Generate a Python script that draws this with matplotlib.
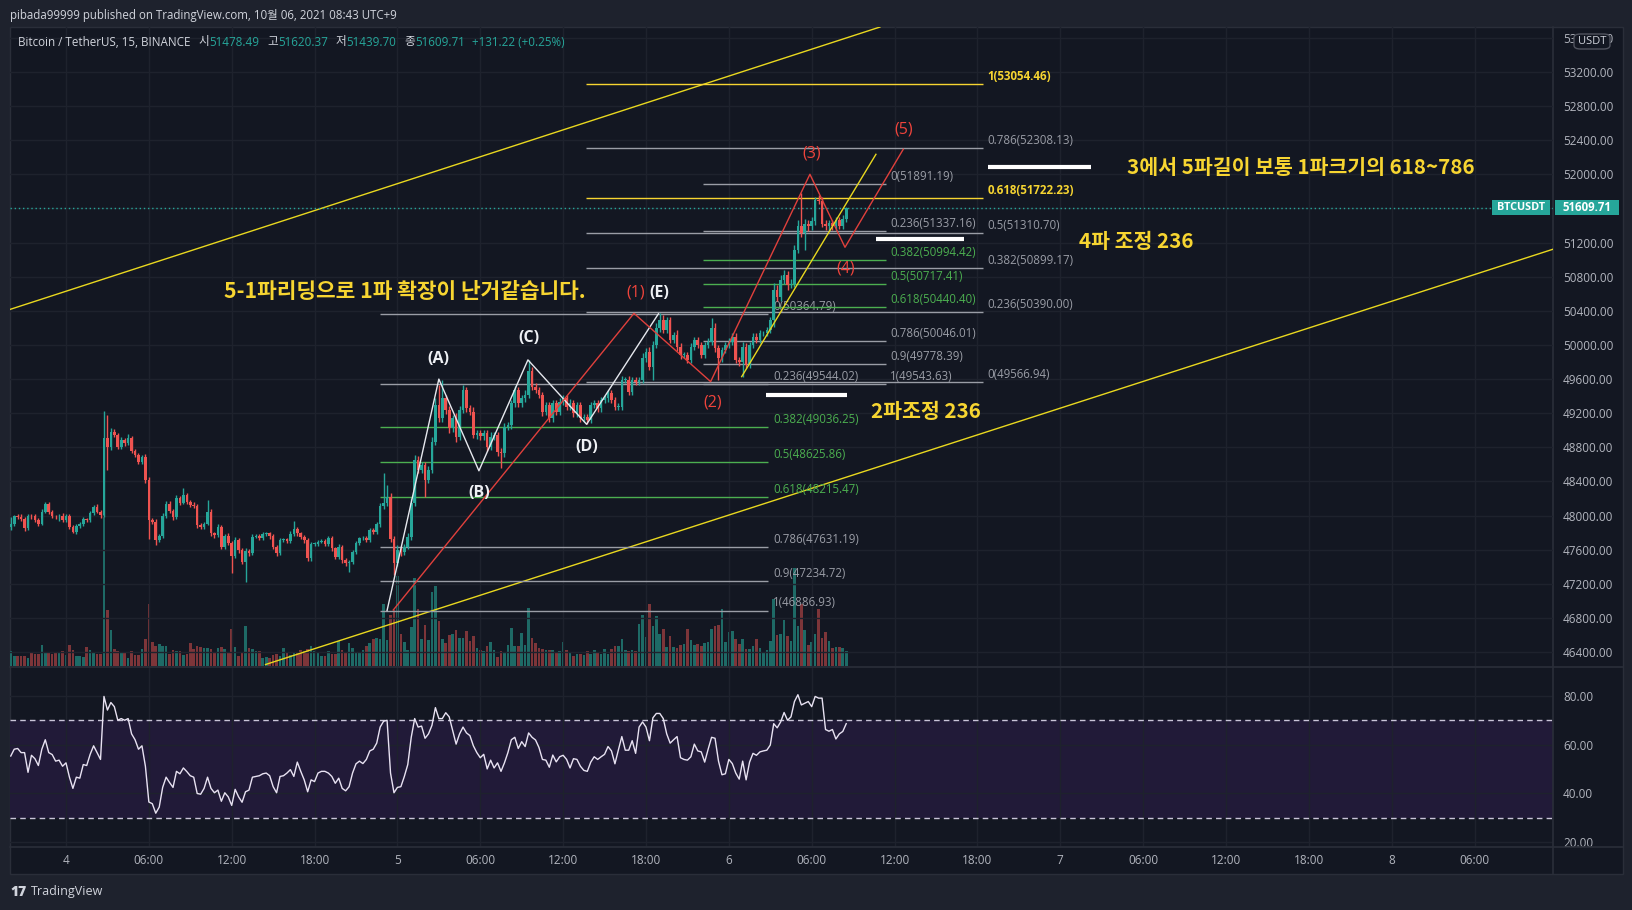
import matplotlib
matplotlib.use('Agg')
import matplotlib.pyplot as plt
import numpy as np
from matplotlib.patches import Rectangle, FancyBboxPatch

# ---------------- data (x in hours since 2021-10-04 00:00, UTC+9) ----------------
bar_start_hour = -4.0
bar_step_hour = 0.25
first_open = 47870

close = [
    47900, 47990, 47985, 47960, 47850, 47995, 47990, 47950,
    47905, 48045, 48135, 48045, 47995, 47990, 48000, 47950,
    47995, 47870, 47810, 47877, 47900, 47960, 47948, 48026,
    48100, 48046, 48007, 48905, 48800, 48983, 48945, 48808,
    48886, 48847, 48913, 48760, 48710, 48632, 48690, 48417,
    47948, 47930, 47713, 47760, 47995, 48135, 48057, 47979,
    48202, 48151, 48241, 48160, 48124, 48112, 47889, 47862,
    47905, 48046, 47792, 47772, 47870, 47635, 47764, 47682,
    47526, 47713, 47596, 47459, 47584, 47557, 47752, 47760,
    47733, 47784, 47791, 47760, 47635, 47557, 47713, 47721,
    47700, 47784, 47838, 47790, 47752, 47713, 47498, 47666,
    47670, 47694, 47700, 47666, 47733, 47616, 47518, 47635,
    47479, 47440, 47459, 47577, 47674, 47733, 47740, 47717,
    47830, 47810, 47901, 48112, 48143, 48221, 47725, 47448,
    47596, 47570, 47635, 47752, 48151, 48651, 48534, 48593,
    48417, 48534, 48866, 49296, 49140, 49374, 49237, 49022,
    49140, 48925, 49237, 49472, 49257, 49218, 48945, 48964,
    48930, 48964, 48808, 48925, 48940, 48750, 48730, 49042,
    49060, 49316, 49472, 49316, 49374, 49413, 49700, 49511,
    49472, 49413, 49218, 49296, 49140, 49316, 49218, 49335,
    49374, 49277, 49316, 49198, 49296, 49140, 49160, 49120,
    49296, 49316, 49257, 49355, 49374, 49433, 49355, 49277,
    49277, 49589, 49589, 49452, 49589, 49570, 49589, 49843,
    49921, 49746, 50000, 50195, 50293, 50175, 50292, 50058,
    50117, 49980, 49882, 49882, 49824, 49980, 50058, 50000,
    49882, 50000, 50039, 50195, 49960, 49843, 49941, 50000,
    50039, 50097, 49824, 49804, 49980, 49765, 50000, 50097,
    50058, 50136, 50136, 50175, 50292, 50644, 50560, 50761,
    50820, 50703, 50720, 51113, 51400, 51308, 51420, 51390,
    51450, 51700, 51690, 51420, 51390, 51430, 51390, 51465,
    51400, 51478.49, 51609.71]

wick_hi = [
    78, 20, 25, 30, 20, 25, 20, 25,
    20, 30, 25, 20, 20, 15, 20, 25,
    25, 20, 15, 20, 25, 20, 15, 25,
    20, 30, 20, 325, 275, 40, 30, 25,
    30, 20, 40, 25, 20, 25, 20, 30,
    40, 25, 30, 25, 30, 40, 30, 25,
    40, 25, 78, 25, 20, 30, 20, 25,
    25, 136, 30, 20, 30, 25, 20, 30,
    25, 30, 20, 25, 30, 20, 30, 25,
    20, 25, 20, 20, 25, 20, 25, 20,
    20, 30, 102, 25, 20, 25, 20, 30,
    20, 20, 20, 25, 30, 25, 20, 30,
    20, 20, 25, 20, 25, 20, 20, 25,
    30, 30, 25, 40, 352, 137, 40, 30,
    60, 30, 30, 40, 50, 60, 50, 40,
    40, 50, 50, 80, 234, 216, 40, 50,
    40, 60, 50, 60, 40, 40, 50, 40,
    40, 40, 40, 50, 40, 40, 40, 40,
    40, 40, 50, 40, 40, 60, 120, 40,
    40, 40, 40, 40, 40, 40, 40, 40,
    40, 40, 50, 40, 40, 40, 30, 30,
    40, 40, 40, 40, 40, 40, 40, 30,
    40, 50, 40, 50, 40, 40, 40, 60,
    40, 60, 50, 60, 77, 60, 40, 40,
    40, 60, 40, 40, 40, 40, 40, 40,
    40, 40, 40, 117, 60, 40, 40, 40,
    40, 40, 40, 40, 60, 40, 40, 40,
    40, 40, 30, 30, 30, 80, 60, 60,
    60, 50, 50, 60, 60, 378, 60, 40,
    50, 40, 60, 40, 40, 40, 40, 40,
    30, 40, 10.66]

wick_lo = [
    40, 25, 20, 25, 30, 20, 25, 20,
    25, 20, 20, 25, 20, 25, 50, 20,
    20, 25, 20, 25, 20, 20, 25, 20,
    25, 20, 30, 20, 266, 30, 25, 30,
    25, 30, 20, 30, 25, 25, 30, 30,
    223, 30, 58, 25, 25, 25, 30, 30,
    25, 25, 20, 30, 25, 25, 30, 25,
    25, 20, 30, 30, 25, 30, 25, 30,
    196, 25, 30, 25, 234, 30, 25, 20,
    25, 20, 20, 30, 25, 30, 25, 20,
    25, 20, 20, 25, 25, 30, 30, 25,
    25, 30, 20, 25, 25, 30, 30, 25,
    30, 30, 98, 25, 25, 20, 20, 25,
    25, 25, 30, 30, 30, 30, 40, 145,
    40, 40, 30, 30, 40, 40, 40, 40,
    196, 40, 40, 40, 40, 40, 50, 50,
    40, 60, 40, 40, 40, 40, 40, 50,
    40, 40, 50, 40, 40, 50, 176, 40,
    40, 40, 40, 40, 40, 40, 40, 40,
    40, 40, 50, 40, 40, 40, 40, 40,
    40, 40, 40, 40, 40, 40, 40, 47,
    40, 40, 40, 40, 30, 40, 40, 40,
    40, 40, 40, 40, 40, 40, 40, 40,
    40, 40, 157, 40, 40, 40, 40, 40,
    40, 50, 50, 40, 40, 40, 40, 40,
    40, 40, 40, 40, 40, 254, 40, 40,
    40, 40, 40, 50, 176, 40, 40, 40,
    40, 40, 30, 30, 30, 78, 40, 40,
    50, 60, 40, 40, 40, 40, 195, 50,
    40, 40, 40, 40, 40, 40, 40, 40,
    40, 40, 38.79]

volume = [v * 30 for v in [
    15, 10, 10, 10, 10, 8, 14, 12, 12, 21, 13, 13, 12, 14, 13, 15, 11, 21, 16, 10,
    10, 9, 19, 16, 14, 12, 12, 151,
    56, 36, 17, 15, 14, 14, 8, 15, 11, 11,
    17, 27, 62, 24, 20, 22, 20, 20, 12, 16,
    15, 15, 11, 12, 23, 17, 20, 19, 18, 18,
    17, 14, 18, 19, 17, 13, 37, 19, 10, 13,
    40, 18, 17, 15, 15, 8, 9, 8, 11, 12,
    10, 18, 14, 11, 13, 13, 16, 15, 17, 20,
    15, 13, 10, 10, 15, 12, 12, 25, 16, 14,
    23, 18, 14, 13, 16, 20, 23, 27, 28, 27,
    62, 26, 51, 56, 90, 32, 24, 16, 39, 88,
    57, 27, 41, 26,
    74, 80, 45, 27, 23, 31, 32, 36, 28, 28,
    35, 25, 30, 18, 16, 15, 20, 24, 16, 9,
    15, 14, 21, 38, 20, 20, 33, 21, 58, 28,
    23, 18, 17, 16, 16, 16, 14, 15, 24, 16,
    13, 10, 12, 12, 11, 15, 12, 16, 14, 12,
    17, 12, 17, 20, 20, 27, 16, 15, 16, 15,
    42, 51, 29, 62, 40, 50, 32, 37, 19, 30,
    19, 18, 21, 22, 37, 26, 21, 22, 20, 23,
    24, 37, 40, 41, 57, 24, 34, 35, 27, 22,
    27, 17, 17, 20, 27, 18, 14, 16, 25, 67,
    31, 32, 46, 30, 25, 98, 40, 62, 36, 21,
    24, 32, 57, 28, 34, 25, 18, 19, 19, 18,
    15]]

rsi = [
    55.3, 58.1, 58.4, 56.7, 56.7, 48.6, 55.6, 54.2, 51.4, 58.1,
    62.0, 56.7, 55.9, 53.2, 53.6, 51.1, 52.5, 46.6, 42.0, 46.6,
    46.2, 51.8, 51.4, 56.0, 59.5, 56.7, 53.9, 79.8, 74.2, 77.3,
    75.6, 70.0, 70.7, 70.0, 70.7, 64.4, 62.0, 58.1, 59.5, 51.1,
    36.4, 35.7, 31.8, 34.3, 42.4, 46.6, 44.4, 42.4, 49.0, 48.0,
    50.4, 48.9, 47.2, 46.6, 39.9, 39.6, 42.0, 46.6, 42.0, 40.2,
    41.3, 36.7, 40.2, 38.5, 35.0, 41.6, 38.5, 36.3, 40.6, 41.3,
    46.6, 46.9, 47.2, 48.0, 48.3, 47.2, 42.7, 40.2, 46.9, 47.2,
    48.3, 49.7, 46.9, 52.8, 49.0, 45.5, 40.6, 45.5, 44.8, 48.3,
    49.0, 49.0, 48.3, 46.9, 44.1, 46.2, 42.0, 41.0, 42.7, 48.3,
    52.1, 53.2, 52.2, 53.9, 57.4, 58.1, 60.6, 67.2, 69.6, 70.0,
    48.3, 40.2, 42.4, 42.7, 46.9, 51.8, 63.0, 70.7, 67.2, 67.6,
    62.6, 64.4,
    67.9, 75.2, 70.7, 70.7, 73.1, 71.4, 65.8, 60.2, 64.4, 67.2,
    64.8, 63.7, 59.5, 56.7, 54.6, 56.0, 50.0, 53.6, 50.4, 52.5,
    49.0, 52.5, 56.7, 62.0, 63.0, 58.4, 61.2, 59.2, 64.8, 63.0,
    61.9, 58.8, 53.9, 53.6, 50.7, 55.7, 52.9, 55.0, 55.6, 53.9,
    50.4, 54.2, 53.9, 51.1, 49.4, 49.0, 52.8, 55.0, 53.9, 55.0,
    56.0, 59.2, 57.4, 52.1, 57.8, 63.3, 57.7, 57.7, 61.6, 56.4,
    67.2, 69.3, 67.2, 61.6, 71.0, 72.8, 72.8, 70.7, 64.4, 60.6,
    62.0, 63.3, 54.6, 53.9, 53.6, 55.0, 60.2, 57.4, 57.0, 52.8,
    58.1, 63.0, 62.6, 53.2, 47.6, 48.0, 53.9, 52.2, 48.3, 45.8,
    53.2, 45.5, 52.8, 56.4, 55.6, 57.0, 57.4, 57.7, 59.8, 68.6,
    66.9, 69.3, 73.2, 70.0, 71.4, 77.7, 80.5, 76.3, 77.0, 77.7,
    75.6, 79.8, 79.1, 79.1, 66.2, 65.5, 66.2, 62.3, 64.4, 65.4,
    68.6]

price_ticks = [46400, 46800, 47200, 47600, 48000, 48400, 48800, 49200, 49600,
               50000, 50400, 50800, 51200, 51600, 52000, 52400, 52800, 53200, 53600]
rsi_ticks = [20, 40, 60, 80]
time_ticks = [0, 6, 12, 18, 24, 30, 36, 42, 48, 54, 60, 66, 72, 78, 84, 90, 96, 102]
time_labels = ['4', '06:00', '12:00', '18:00', '5', '06:00', '12:00', '18:00', '6',
               '06:00', '12:00', '18:00', '7', '06:00', '12:00', '18:00', '8', '06:00']

last_price = 51609.71

# Fibonacci tools
fib_ratios = [0, 0.236, 0.382, 0.5, 0.618, 0.786, 0.9, 1]
fib1_prices = [50364.79, 49544.02, 49036.25, 48625.86, 48215.47, 47631.19, 47234.72, 46886.93]
fib1_span = (22.74, 50.85)
fib2_prices = [51891.19, 51337.16, 50994.42, 50717.41, 50440.40, 50046.01, 49778.39, 49543.63]
fib2_span = (46.15, 59.38)
ext_ratios = [0, 0.236, 0.382, 0.5, 0.618, 0.786, 1]
ext_prices = [49566.94, 50390.00, 50899.17, 51310.70, 51722.23, 52308.13, 53054.46]
ext_span = (37.68, 66.38)

# Elliott wave drawings
abc_t = [23.25, 27.0, 29.9, 33.45, 37.7, 42.9]
abc_p = [46887, 49600, 48525, 49825, 49070, 50365]
impulse_t = [23.7, 41.13, 46.68, 53.87, 56.41, 60.63]
impulse_p = [46893, 50371, 49570, 52001, 51145, 52294]
wave4_line_t = [48.93, 58.65]
wave4_line_p = [49629, 52235]
channel_upper_t = [-4.03, 58.94]
channel_upper_p = [50418, 53727]
channel_lower_t = [14.45, 107.75]
channel_lower_p = [46254, 51126]
marks_p = [49417, 51248, 52091]
marks_t0 = [50.72, 58.65, 66.79]
marks_t1 = [56.53, 65.06, 74.26]

abc_labels = ['(A)', '(B)', '(C)', '(D)', '(E)']
abc_label_t = [26.97, 29.9, 33.53, 37.68, 42.96]
abc_label_p = [49832, 48269, 50076, 48806, 50613]
imp_labels = ['(1)', '(2)', '(3)', '(4)', '(5)']
imp_label_t = [41.22, 46.8, 53.97, 56.46, 60.68]
imp_label_p = [50613, 49331, 52249, 50894, 52530]

notes = ['5-1파리딩으로 1파 확장이 난거같습니다.', '3에서 5파길이 보통 1파크기의 618~786',
         '4파 조정 236', '2파조정 236']
note_t = [11.44, 76.83, 73.35, 58.27]
note_p = [50626, 52078, 51212, 49221]
note_size = [15.4, 14.8, 14.8, 14.8]

# ---------------- styling ----------------
W, H = 1633, 910
BG = '#131722'
FRAME = '#1e222d'
GRID = '#1e222d'
SEP = '#2a2e39'
GREEN = '#26a69a'
RED = '#ef5350'
VGREEN = '#1e6a66'
VRED = '#7d3539'
TXT = '#b2b5be'
YEL = '#f7d531'
LYEL = '#e9d81f'
FGRAY = '#9a9da6'
FGREEN = '#4caf50'

plt.rcParams['font.family'] = ['Open Sans', 'Noto Sans CJK KR', 'DejaVu Sans']
KR = ['Noto Sans CJK KR', 'DejaVu Sans']

fig = plt.figure(figsize=(W / 100, H / 100), dpi=100, facecolor=FRAME)


def fr(x0, y0, x1, y1):
    return [x0 / W, 1 - y1 / H, (x1 - x0) / W, (y1 - y0) / H]


fig.patches.append(Rectangle((10 / W, 1 - 874 / H), (1623 - 10) / W, (874 - 27) / H,
                             transform=fig.transFigure, facecolor=BG, edgecolor=SEP,
                             lw=1, zorder=-5))

t = bar_start_hour + bar_step_hour * np.arange(len(close))
c = np.array(close, dtype=float)
o = np.concatenate([[first_open], c[:-1]])
hi = np.maximum(o, c) + np.array(wick_hi)
lo = np.minimum(o, c) - np.array(wick_lo)
up = c >= o
cols = np.where(up, GREEN, RED)
vcols = np.where(up, VGREEN, VRED)

XL = (-4.055, 107.68)
PL = (46236.5, 53727.5)

# volume pane (below price axes)
axv = fig.add_axes(fr(10, 27, 1553, 666))
axv.set_facecolor('none')
axv.set_zorder(1)
axv.bar(t, volume, width=0.19, color=vcols, linewidth=0)
axv.set_xlim(*XL)
axv.set_ylim(0, 639 * 30)
axv.axis('off')

ax = fig.add_axes(fr(10, 27, 1553, 666))
ax.set_zorder(2)
ax.set_facecolor('none')
ax.set_xlim(*XL)
ax.set_ylim(*PL)
for s in ax.spines.values():
    s.set_visible(False)
ax.yaxis.tick_right()
ax.set_yticks(price_ticks)
ax.set_yticklabels(['%.2f' % p for p in price_ticks])
ax.set_xticks(time_ticks)
ax.set_xticklabels([])
ax.tick_params(axis='y', length=0, pad=7.2, labelsize=8.5, labelcolor=TXT)
ax.tick_params(axis='x', length=0)
ax.grid(True, color=GRID, lw=1, zorder=0)
ax.set_axisbelow(True)

# channel
ax.plot(channel_upper_t, channel_upper_p, color=LYEL, lw=1, zorder=2)
ax.plot(channel_lower_t, channel_lower_p, color=LYEL, lw=1, zorder=2)

# current price line
ax.axhline(last_price, color=GREEN, lw=1, ls=(0, (1, 2)), zorder=2)


def fib(prices, ratios, span, lab_x, colors, weights):
    for p, r, col, w in zip(prices, ratios, colors, weights):
        ax.hlines(p, span[0], span[1], color=col, lw=1, zorder=3)
        ax.text(lab_x, p + 12, '%g(%.2f)' % (r, p), color=col, fontsize=8.3,
                fontweight=w, ha='left', va='bottom', zorder=3)


gcol = [FGREEN if r in (0.382, 0.5, 0.618) else FGRAY for r in fib_ratios]
fib(fib1_prices, fib_ratios, fib1_span, fib1_span[1] + 0.35, gcol, ['normal'] * 8)
fib(fib2_prices, fib_ratios, fib2_span, fib2_span[1] + 0.3, gcol, ['normal'] * 8)
ecol = [YEL if r in (0.618, 1) else FGRAY for r in ext_ratios]
ew = ['bold' if r in (0.618, 1) else 'normal' for r in ext_ratios]
fib(ext_prices, ext_ratios, ext_span, ext_span[1] + 0.33, ecol, ew)

# candles
ax.vlines(t, lo, hi, colors=cols, lw=1, zorder=4)
body_b = np.minimum(o, c)
body_h = np.maximum(np.abs(c - o), 8)
ax.bar(t, body_h, bottom=body_b, width=0.19, color=cols, linewidth=0, zorder=5)

# wave drawings
ax.plot(abc_t, abc_p, color='#e6e8ee', lw=1, zorder=6)
ax.plot(impulse_t, impulse_p, color='#e0403c', lw=1, zorder=6)
ax.plot(wave4_line_t, wave4_line_p, color=LYEL, lw=1, zorder=6)
ax.hlines(marks_p, marks_t0, marks_t1, color='white', lw=3, zorder=6)

for s, x, y in zip(abc_labels, abc_label_t, abc_label_p):
    ax.text(x, y, s, color='#eef0f4', fontsize=11.5, fontweight='bold',
            ha='center', va='center', zorder=7)
for s, x, y in zip(imp_labels, imp_label_t, imp_label_p):
    ax.text(x, y, s, color='#f0443c', fontsize=11.5, ha='center', va='center', zorder=7)
for s, x, y, fs in zip(notes, note_t, note_p, note_size):
    ax.text(x, y, s, color=YEL, fontsize=fs, fontweight='bold', family=KR,
            ha='left', va='center', zorder=7)

# RSI pane
axr = fig.add_axes(fr(10, 667, 1553, 847))
axr.set_zorder(1)
axr.set_facecolor('none')
axr.set_xlim(*XL)
axr.set_ylim(17.9, 91.9)
for s in axr.spines.values():
    s.set_visible(False)
axr.axhspan(30, 70, color='#211a38', lw=0, zorder=0.5)
axr.axhline(70, color='#c9c4d8', lw=1, ls=(0, (4, 3)), zorder=1)
axr.axhline(30, color='#c9c4d8', lw=1, ls=(0, (4, 3)), zorder=1)
axr.plot(t, rsi, color='#e8e2f2', lw=1, zorder=3)
axr.yaxis.tick_right()
axr.set_yticks(rsi_ticks)
axr.set_yticklabels(['%.2f' % v for v in rsi_ticks])
axr.set_xticks(time_ticks)
axr.set_xticklabels(time_labels)
axr.tick_params(axis='y', length=0, pad=7.2, labelsize=8.5, labelcolor=TXT)
axr.tick_params(axis='x', length=0, pad=5.0, labelsize=8.5, labelcolor=TXT)
axr.grid(True, color=GRID, lw=1, zorder=0)
axr.set_axisbelow(True)

# separators
for y in (666.5, 847):
    fig.add_artist(plt.Line2D([10 / W, 1623 / W], [1 - y / H, 1 - y / H], color=SEP, lw=1.2))
fig.add_artist(plt.Line2D([1553.5 / W, 1553.5 / W], [1 - 27 / H, 1 - 874 / H], color=SEP, lw=1.2))

# price axis badges
ydisp = ax.transData.transform((0, last_price))[1]
yf = ydisp / H
bh = 15 / H
fig.patches.append(Rectangle((1492 / W, yf - bh / 2), 58 / W, bh, transform=fig.transFigure,
                             facecolor=GREEN, edgecolor='none', zorder=5))
fig.text(1521 / W, yf, 'BTCUSDT', color='white', fontsize=7.8, fontweight='bold',
         ha='center', va='center', zorder=6)
fig.patches.append(Rectangle((1555 / W, yf - bh / 2), 64 / W, bh, transform=fig.transFigure,
                             facecolor=GREEN, edgecolor='none', zorder=5))
fig.text(1587 / W, yf, '%.2f' % last_price, color='white', fontsize=8.3, fontweight='bold',
         ha='center', va='center', zorder=6)

fig.patches.append(FancyBboxPatch((1574 / W, 1 - 49 / H), 36 / W, 15 / H,
                                  boxstyle='round,pad=0,rounding_size=0.004',
                                  transform=fig.transFigure, facecolor=BG,
                                  edgecolor='#50535e', lw=1, zorder=5))
fig.text(1592 / W, 1 - 41.5 / H, 'USDT', color='#d1d4dc', fontsize=8, ha='center',
         va='center', zorder=6)

# header and legend
fig.text(10 / W, 1 - 15 / H, 'pibada99999 published on TradingView.com, 10월 06, 2021 08:43 UTC+9',
         color='#d1d4dc', fontsize=8.3, va='center', ha='left')

renderer = fig.canvas.get_renderer()
legend_parts = [('Bitcoin / TetherUS, 15, BINANCE', '#d1d4dc', 8),
                ('시', '#d1d4dc', 0), ('51478.49', GREEN, 8),
                ('고', '#d1d4dc', 0), ('51620.37', GREEN, 8),
                ('저', '#d1d4dc', 0), ('51439.70', GREEN, 8),
                ('종', '#d1d4dc', 0), ('51609.71', GREEN, 7),
                ('+131.22 (+0.25%)', GREEN, 0)]
xp = 18
for s, col, gap in legend_parts:
    tx = fig.text(xp / W, 1 - 42 / H, s, color=col, fontsize=8.4, va='center', ha='left')
    xp += tx.get_window_extent(renderer=renderer).width + gap

# footer logo
fig.text(10 / W, 1 - 892 / H, '17', color='#d1d4dc', fontsize=10, fontweight='heavy',
         va='center', ha='left')
fig.text(31 / W, 1 - 892 / H, 'TradingView', color='#d1d4dc', fontsize=9, va='center', ha='left')

fig.savefig('out.png', dpi=100, facecolor=FRAME)
